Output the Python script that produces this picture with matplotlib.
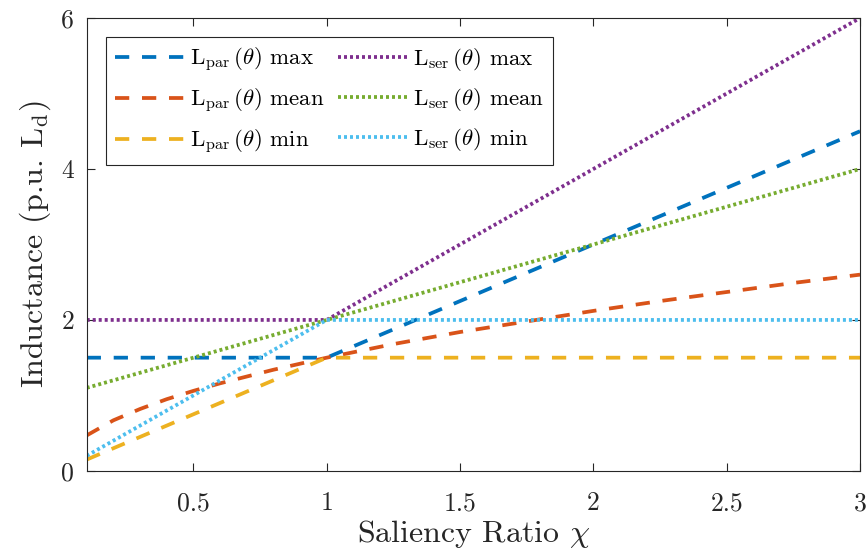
import matplotlib
matplotlib.use("Agg")
import matplotlib.pyplot as plt

# values
x_knee = [0.1, 1.0, 3.0]
par_max = [1.5, 1.5, 4.5]
par_min = [0.15, 1.5, 1.5]
ser_max = [2.0, 2.0, 6.0]
ser_mean = [1.1, 2.0, 4.0]
ser_min = [0.2, 2.0, 2.0]

x_mean = [0.1, 0.2, 0.3, 0.4, 0.5, 0.6, 0.7, 0.8, 0.9, 1.0,
          1.25, 1.5, 1.75, 2.0, 2.25, 2.5, 2.75, 3.0]
par_mean = [0.47, 0.67, 0.82, 0.95, 1.06, 1.16, 1.25, 1.34, 1.42, 1.5,
            1.68, 1.84, 1.98, 2.12, 2.25, 2.37, 2.49, 2.6]

plt.rcParams["font.family"] = "serif"
plt.rcParams["font.serif"] = ["cmr10"]
plt.rcParams["mathtext.fontset"] = "cm"
plt.rcParams["axes.unicode_minus"] = False
plt.rcParams["axes.formatter.use_mathtext"] = True

fig = plt.figure(figsize=(8.67, 5.54), dpi=100)
ax = fig.add_axes([0.1, 0.15, 0.892, 0.8175])

lw = 2.7
dash = (3.8, 3.4)
dot = (0.8, 0.8)
ax.plot(x_knee, par_max, color="#0072BD", lw=lw, dashes=dash, label=r"$\mathrm{L_{par}}\,(\theta)$ max")
ax.plot(x_mean, par_mean, color="#D95319", lw=lw, dashes=dash, label=r"$\mathrm{L_{par}}\,(\theta)$ mean")
ax.plot(x_knee, par_min, color="#EDB120", lw=lw, dashes=dash, label=r"$\mathrm{L_{par}}\,(\theta)$ min")
ax.plot(x_knee, ser_max, color="#7E2F8E", lw=lw, dashes=dot, label=r"$\mathrm{L_{ser}}\,(\theta)$ max")
ax.plot(x_knee, ser_mean, color="#77AC30", lw=lw, dashes=dot, label=r"$\mathrm{L_{ser}}\,(\theta)$ mean")
ax.plot(x_knee, ser_min, color="#4DBEEE", lw=lw, dashes=dot, label=r"$\mathrm{L_{ser}}\,(\theta)$ min")

ax.set_xlim(0.1, 3)
ax.set_ylim(0, 6)
ax.set_xticks([0.5, 1, 1.5, 2, 2.5, 3])
ax.set_xticklabels(["0.5", "1", "1.5", "2", "2.5", "3"])
ax.set_yticks([0, 2, 4, 6])
ax.set_yticklabels(["0", "2", "4", "6"])
ax.tick_params(direction="in", top=True, right=True, labelsize=18.5, length=6, width=0.8,
               colors="#262626")
ax.tick_params(axis="x", pad=15)
ax.tick_params(axis="y", pad=9)
for s in ax.spines.values():
    s.set_color("#262626")
    s.set_linewidth(0.8)

ax.set_xlabel(r"Saliency Ratio $\chi$", fontsize=23, color="#262626", labelpad=2)
ax.set_ylabel(r"Inductance (p.u. $\mathrm{L_d}$)", fontsize=23, color="#262626", labelpad=6)

leg = ax.legend(ncol=2, loc="upper left", bbox_to_anchor=(0.025, 0.958), borderaxespad=0,
                fontsize=16.5, handlelength=3.0, handletextpad=0.25, columnspacing=0.6,
                labelspacing=0.55, fancybox=False, edgecolor="#262626",
                borderpad=0.4, framealpha=1)
leg.get_frame().set_linewidth(0.8)

fig.savefig("out.png", dpi=100)
